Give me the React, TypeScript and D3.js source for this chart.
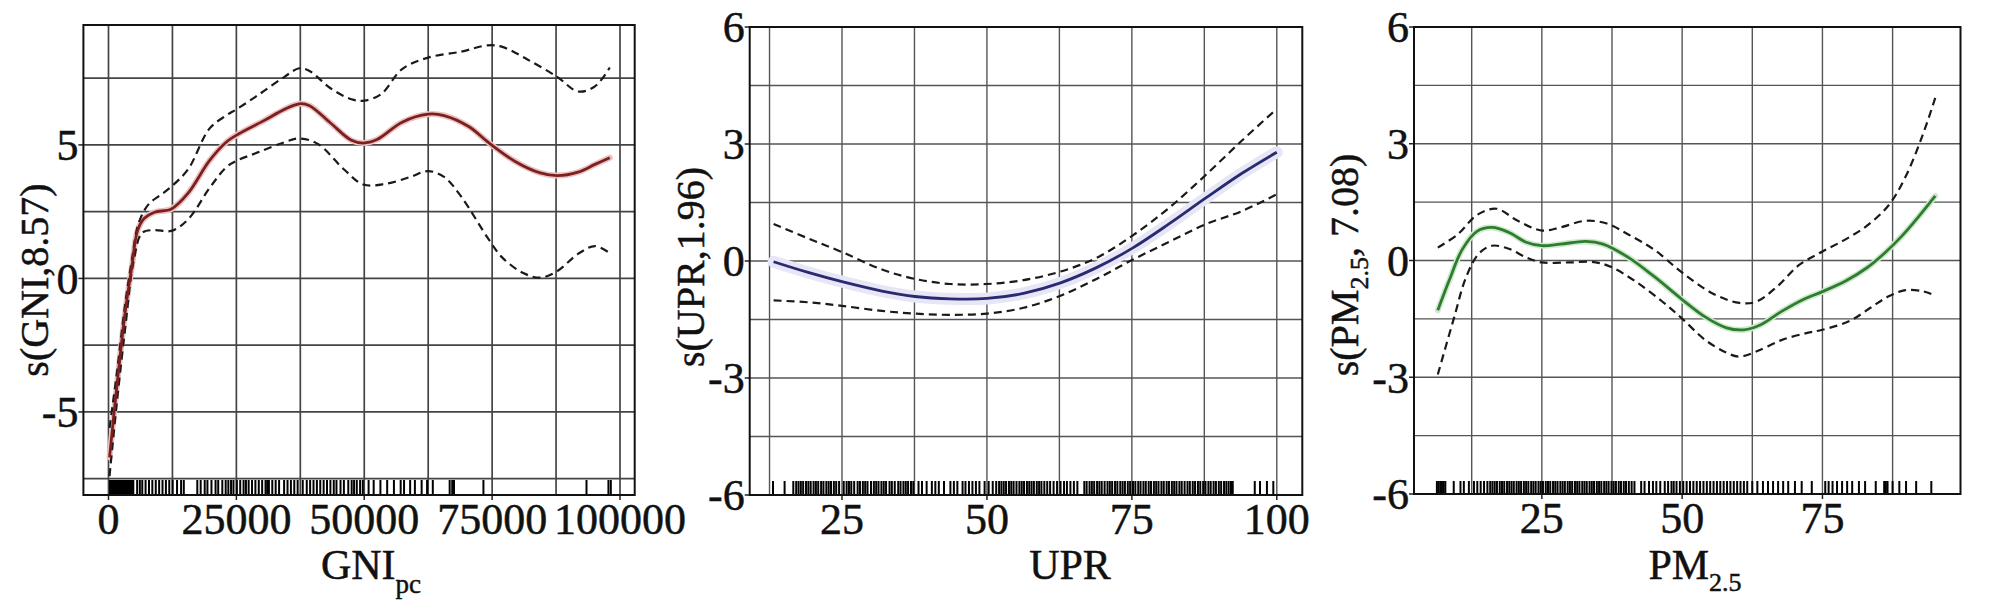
import React from "react";
import * as d3 from "d3";

type Pt = [number, number];

const FONT = '"Liberation Serif", "Times New Roman", Times, serif';

// ---- GNI per capita panel ----
const gniFit: Pt[] = [
  [200, -6.7], [1600, -4.1], [3300, -1.2], [4500, 0.35], [5700, 1.8], [7000, 2.25],
  [9000, 2.48], [12300, 2.6], [15600, 3.2], [19700, 4.4], [23000, 5.1], [25500, 5.42],
  [30300, 5.9], [34400, 6.33], [37300, 6.54], [39300, 6.47], [43400, 5.82], [47500, 5.17],
  [49800, 5.07], [52500, 5.2], [57400, 5.85], [62500, 6.15], [65600, 6.1], [70500, 5.68],
  [74200, 5.1], [79500, 4.38], [84400, 3.95], [87700, 3.85], [91800, 3.98], [95100, 4.27],
  [98000, 4.52],
];
const gniUpper: Pt[] = [
  [200, -5.6], [1600, -3.6], [3300, -0.9], [4500, 0.6], [5700, 1.95], [7000, 2.55],
  [8200, 2.85], [10000, 3.1], [12300, 3.44], [15600, 4.1], [19700, 5.6], [23000, 6.1],
  [25000, 6.33], [29500, 6.9], [34400, 7.55], [37300, 7.87], [39300, 7.77], [43400, 7.12],
  [47500, 6.71], [50000, 6.66], [53300, 6.9], [57400, 7.84], [62500, 8.27], [68900, 8.49],
  [74200, 8.73], [77000, 8.67], [81900, 8.2], [87700, 7.55], [91800, 7.0], [95100, 7.19],
  [98000, 7.9],
];
const gniLower: Pt[] = [
  [200, -7.4], [1600, -4.7], [3300, -1.8], [4900, 0.63], [6600, 1.71], [9000, 1.81],
  [12300, 1.78], [15600, 2.22], [19700, 3.37], [23000, 4.16], [25000, 4.4], [29500, 4.74],
  [34400, 5.1], [37300, 5.24], [41000, 5.03], [46000, 4.09], [49800, 3.52], [54100, 3.54],
  [59000, 3.8], [62500, 4.02], [65600, 3.8], [68900, 3.08], [74200, 1.5], [77000, 0.78],
  [81100, 0.2], [84400, 0.03], [87700, 0.27], [91800, 0.92], [95100, 1.21], [98000, 0.95],
];
const gniRug = [
  300, 450, 600, 750, 900, 1050, 1150, 1300, 1450, 1600, 1750, 1900, 2050, 2200, 2350, 2500,
  2650, 2800, 2950, 3100, 3300, 3450, 3600, 3800, 3950, 4150, 4300, 4500, 4650, 4850,
  5600, 6130, 6600, 7250, 7920, 8570, 9240, 9900, 10560, 11220, 11880, 12540, 13400, 14190, 14720,
  17360, 18020, 18810, 19340, 20130, 20930, 21450, 22250, 22910, 23430, 23960, 24430,
  25090, 25750, 26410, 26870, 27400, 28060, 28720, 29380, 30040, 30700, 31030, 31360, 32020,
  32680, 33350, 34330, 35000, 35660, 36320, 36980, 37970, 38760, 39420, 40080, 40740, 41400,
  42060, 42720, 43380, 44040, 44570, 45360, 46020, 46880, 47540, 48010, 48540, 49190, 49720,
  50850, 51840, 53160, 54480, 55800, 57120, 57780, 58970, 59900, 61220, 62280, 63400,
  66700, 67200, 67550, 73300, 93450, 97740, 98200,
];
const gniXTicks = [0, 25000, 50000, 75000, 100000];
const gniXGrid = [0, 12500, 25000, 37500, 50000, 62500, 75000, 87500, 100000];
const gniYTicks = [-5, 0, 5];
const gniYGrid = [-7.5, -5, -2.5, 0, 2.5, 5, 7.5];

// ---- UPR panel ----
const uprFit: Pt[] = [
  [13.2, -0.02], [19.3, -0.3], [25, -0.53], [31.9, -0.77], [37.6, -0.91], [43.7, -0.97],
  [50, -0.96], [56.3, -0.83], [62.7, -0.56], [68.9, -0.17], [75.1, 0.33], [81.4, 0.95],
  [87.7, 1.61], [94, 2.25], [100, 2.79],
];
const uprUpper: Pt[] = [
  [13.2, 0.95], [19.3, 0.57], [25, 0.23], [31.9, -0.22], [37.6, -0.46], [43.7, -0.59],
  [50, -0.59], [56.3, -0.49], [62.7, -0.27], [68.9, 0.08], [75.1, 0.65], [81.4, 1.36],
  [87.7, 2.2], [94, 3.09], [100, 3.9],
];
const uprLower: Pt[] = [
  [13.2, -1.01], [19.3, -1.06], [25, -1.15], [31.9, -1.28], [37.6, -1.35], [43.7, -1.38],
  [50, -1.35], [56.3, -1.2], [62.7, -0.89], [68.9, -0.46], [75.1, 0.03], [81.4, 0.49],
  [87.7, 0.94], [94, 1.28], [100, 1.71],
];
const uprRug = [
  13.1, 15.1, 16.6, 17.1, 17.5, 17.9, 18.3, 18.8, 19.2, 19.6, 20.1, 20.5, 20.9, 21.4, 21.8,
  22.3, 22.7, 23.1, 23.6, 24.0, 24.5, 25.3, 25.8, 26.2, 26.6, 27.1, 27.7, 28.1, 28.6, 29.0,
  29.4, 30.0, 30.5, 30.9, 31.3, 31.8, 32.2, 32.6, 33.2, 33.6, 34.1, 34.7, 35.1, 35.6, 36.0,
  36.4, 36.9, 37.3, 38.2, 38.8, 39.6, 40.5, 41.1, 41.7, 42.6, 43.7, 44.3, 44.9, 45.8, 46.3,
  46.9, 47.5, 48.1, 48.7, 49.6, 50.3, 51.0, 51.6, 52.1, 52.5, 52.9, 53.3, 53.8, 54.2, 54.6,
  55.1, 55.6, 56.0, 56.4, 56.9, 57.3, 57.7, 58.1, 58.6, 59.0, 59.4, 59.9, 60.4, 60.9, 61.5,
  62.1, 62.7, 63.3, 63.8, 64.4, 65.0, 65.6, 66.8, 67.2, 67.7, 68.1, 68.5, 69.0, 69.4, 69.8,
  70.3, 70.8, 71.2, 71.6, 72.1, 72.5, 73.0, 73.4, 73.8, 74.3, 74.7, 75.2, 75.6, 76.1, 76.5,
  77.0, 77.4, 77.9, 78.3, 78.8, 79.2, 79.6, 80.1, 80.5, 81.0, 81.4, 81.9, 82.3, 82.7, 83.2,
  83.6, 84.1, 84.6, 85.0, 85.5, 85.9, 86.4, 86.8, 87.3, 87.7, 88.2, 88.6, 89.1, 89.5, 90.0,
  90.4, 90.9, 91.3, 91.7, 92.1, 92.4, 96.2, 97.1, 98.3, 99.4,
];
const uprXTicks = [25, 50, 75, 100];
const uprXGrid = [12.5, 25, 37.5, 50, 62.5, 75, 87.5, 100];
const uprYTicks = [-6, -3, 0, 3, 6];
const uprYGrid = [-4.5, -3, -1.5, 0, 1.5, 3, 4.5];

// ---- PM2.5 panel ----
const pmFit: Pt[] = [
  [6.46, -1.28], [8.5, -0.51], [10.8, 0.28], [13.45, 0.75], [16.1, 0.85], [19.15, 0.72],
  [22.2, 0.47], [25, 0.38], [28.3, 0.42], [32.8, 0.49], [35.9, 0.42], [40.4, 0.08],
  [45, -0.41], [49.9, -0.99], [54.1, -1.45], [57.9, -1.73], [61, -1.78], [64, -1.65],
  [67.8, -1.3], [71.6, -1.0], [75, -0.8], [79.2, -0.52], [83, -0.18], [86, 0.18],
  [89.1, 0.62], [92.1, 1.12], [95.1, 1.66],
];
const pmUpper: Pt[] = [
  [6.46, 0.33], [10.0, 0.67], [13.45, 1.17], [16.9, 1.33], [20.7, 1.02], [25, 0.77],
  [28.3, 0.85], [32.8, 1.02], [36.6, 0.95], [40.4, 0.67], [45, 0.28], [49.9, -0.3],
  [55.6, -0.86], [60.2, -1.09], [63.2, -1.06], [67, -0.66], [70.8, -0.12], [75, 0.23],
  [79.2, 0.55], [83, 0.9], [86.8, 1.42], [89.8, 2.15], [92.9, 3.24], [95.1, 4.18],
];
const pmLower: Pt[] = [
  [6.46, -2.93], [9.3, -1.5], [11.55, -0.41], [13.8, 0.18], [16.1, 0.38], [19.15, 0.3],
  [22.2, 0.08], [25, -0.05], [29.8, -0.05], [34.3, -0.04], [37.4, -0.17], [41.9, -0.56],
  [46.5, -1.06], [49.9, -1.48], [54.1, -2.04], [57.9, -2.37], [60.2, -2.47], [63.2, -2.34],
  [67.8, -2.04], [72.3, -1.86], [75, -1.78], [79.9, -1.55], [83.7, -1.2], [86.8, -0.92],
  [89.8, -0.76], [92.9, -0.79], [94.4, -0.86],
];
const pmRug = [
  6.3, 6.6, 6.9, 7.2, 7.5, 7.8, 9.3, 10.5, 11.1, 12.0, 12.9, 13.5, 14.1, 14.7,
  15.3, 15.8, 16.2, 16.6, 17.0, 17.5, 17.9, 18.3, 18.8, 19.2, 19.6, 20.0, 20.5, 20.9, 21.3,
  21.8, 22.2, 22.6, 23.1, 23.5, 23.9, 24.4, 24.8, 25.2, 25.7, 26.1, 26.5, 27.0, 27.4, 27.8,
  28.3, 28.7, 29.1, 29.6, 30.0, 30.4, 30.9, 31.3, 31.7, 32.2, 32.6, 33.0, 33.5, 33.9, 34.3,
  34.8, 35.2, 35.6, 36.1, 36.5, 36.9, 37.4, 37.8, 38.2, 38.7, 39.1, 39.6, 40.0, 40.5, 41.0,
  41.5, 42.7, 43.3, 44.1, 44.8, 45.4, 46.1, 46.9, 47.5, 48.1, 48.5, 49.0, 49.6, 50.2, 50.8,
  51.4, 52.0, 52.6, 53.2, 53.8, 54.4, 55.0, 55.6, 56.2, 56.8, 57.4, 58.0, 58.6, 59.2, 59.8,
  60.4, 61.0, 61.6, 62.5, 63.4, 64.4, 65.3, 66.2, 67.1, 68.0, 68.9, 70.1, 71.3, 73.1,
  75.5, 76.1, 76.8, 77.6, 78.5, 79.4, 80.3, 81.5, 82.6, 84.5, 86.0, 86.3, 86.6, 87.5, 88.7,
  89.9, 91.7, 94.4,
];
const pmXTicks = [25, 50, 75];
const pmXGrid = [12.5, 25, 37.5, 50, 62.5, 75, 87.5];
const pmYTicks = [-6, -3, 0, 3, 6];
const pmYGrid = [-4.5, -3, -1.5, 0, 1.5, 3, 4.5];

interface PanelProps {
  box: { left: number; right: number; top: number; bottom: number };
  xDomain: [number, number];
  yDomain: [number, number];
  xGrid: number[];
  yGrid: number[];
  xTicks: number[];
  yTicks: number[];
  fit: Pt[];
  upper: Pt[];
  lower: Pt[];
  rug: number[];
  rugHeight: number;
  color: string;
  halo: string;
  haloWidth: number;
  gridColor: string;
  gridWidth: number;
  xTitle: React.ReactNode;
  xTitleX: number;
  yTitle: React.ReactNode;
  yTitleX: number;
  yTitleY: number;
}

// text is a bit heavier in the source image
const textStyle = { fontFamily: FONT, fill: "#111", stroke: "#111", strokeWidth: 0.5 };

const Panel = (p: PanelProps) => {
  const { left, right, top, bottom } = p.box;
  const x = d3.scaleLinear().domain(p.xDomain).range([left, right]);
  const y = d3.scaleLinear().domain(p.yDomain).range([bottom, top]);
  const line = d3
    .line<Pt>()
    .x((d) => x(d[0]))
    .y((d) => y(d[1]))
    .curve(d3.curveCatmullRom.alpha(0.5));

  return (
    <g>
      {/* grid */}
      {p.xGrid.map((v) => (
        <line key={"gx" + v} x1={x(v)} x2={x(v)} y1={top} y2={bottom}
          stroke={p.gridColor} strokeWidth={p.gridWidth} />
      ))}
      {p.yGrid.map((v) => (
        <line key={"gy" + v} x1={left} x2={right} y1={y(v)} y2={y(v)}
          stroke={p.gridColor} strokeWidth={p.gridWidth} />
      ))}
      {/* tick marks */}
      {p.xTicks.map((v) => (
        <line key={"tx" + v} x1={x(v)} x2={x(v)} y1={bottom} y2={bottom + 5}
          stroke="#222" strokeWidth={1.5} />
      ))}
      {p.yTicks.map((v) => (
        <line key={"ty" + v} x1={left - 5} x2={left} y1={y(v)} y2={y(v)}
          stroke="#222" strokeWidth={1.5} />
      ))}
      {/* rug */}
      {p.rug.map((v, i) => (
        <line key={"r" + i} x1={x(v)} x2={x(v)} y1={bottom - p.rugHeight} y2={bottom}
          stroke="#000" strokeWidth={2} />
      ))}
      {/* curves */}
      <path d={line(p.fit) || ""} fill="none" stroke={p.halo} strokeWidth={p.haloWidth}
        strokeLinecap="round" />
      <path d={line(p.upper) || ""} fill="none" stroke="#1a1a1a" strokeWidth={2.2}
        strokeDasharray="8,5" />
      <path d={line(p.lower) || ""} fill="none" stroke="#1a1a1a" strokeWidth={2.2}
        strokeDasharray="8,5" />
      <path d={line(p.fit) || ""} fill="none" stroke={p.color} strokeWidth={2.8} />
      {/* frame */}
      <rect x={left} y={top} width={right - left} height={bottom - top}
        fill="none" stroke="#111" strokeWidth={2} />
      {/* tick labels */}
      {p.xTicks.map((v) => (
        <text key={"lx" + v} x={x(v)} y={bottom + 39} textAnchor="middle"
          fontSize={44} {...textStyle}>{v}</text>
      ))}
      {p.yTicks.map((v) => (
        <text key={"ly" + v} x={left - 5} y={y(v)} dy="0.35em" textAnchor="end"
          fontSize={44} {...textStyle}>{v}</text>
      ))}
      {/* titles */}
      <text x={p.xTitleX} y={579} textAnchor="middle" fontSize={42}
        {...textStyle}>{p.xTitle}</text>
      <text transform={`translate(${p.yTitleX},${p.yTitleY}) rotate(-90)`}
        textAnchor="middle" fontSize={40} {...textStyle}>{p.yTitle}</text>
    </g>
  );
};

export default function App() {
  return (
    <svg width={1999} height={600}
      style={{ position: "absolute", left: 0, top: 0, background: "#fff" }}>
      <rect width={1999} height={600} fill="#fff" />
      <Panel
        box={{ left: 83.4, right: 634.7, top: 25, bottom: 495 }}
        xDomain={[-4907, 102873]}
        yDomain={[-8.11, 9.49]}
        xGrid={gniXGrid} yGrid={gniYGrid} xTicks={gniXTicks} yTicks={gniYTicks}
        fit={gniFit} upper={gniUpper} lower={gniLower} rug={gniRug} rugHeight={15}
        color="#7e1f1f" halo="#e9c3c3" haloWidth={6}
        gridColor="#444" gridWidth={1.7}
        xTitle={<>GNI<tspan fontSize={27} dy={14}>pc</tspan></>}
        xTitleX={371}
        yTitle="s(GNI,8.57)" yTitleX={48} yTitleY={280}
      />
      <Panel
        box={{ left: 749.7, right: 1302.3, top: 27, bottom: 495 }}
        xDomain={[9.08, 104.4]}
        yDomain={[-6, 6]}
        xGrid={uprXGrid} yGrid={uprYGrid} xTicks={uprXTicks} yTicks={uprYTicks}
        fit={uprFit} upper={uprUpper} lower={uprLower} rug={uprRug} rugHeight={14}
        color="#2a2a70" halo="#e6e6f7" haloWidth={12}
        gridColor="#555" gridWidth={1.4}
        xTitle="UPR" xTitleX={1070}
        yTitle="s(UPR,1.96)" yTitleX={704} yTitleY={267}
      />
      <Panel
        box={{ left: 1414, right: 1960.5, top: 27, bottom: 494 }}
        xDomain={[2.22, 99.6]}
        yDomain={[-6, 6]}
        xGrid={pmXGrid} yGrid={pmYGrid} xTicks={pmXTicks} yTicks={pmYTicks}
        fit={pmFit} upper={pmUpper} lower={pmLower} rug={pmRug} rugHeight={13}
        color="#2e7d2e" halo="#cfe8cf" haloWidth={6}
        gridColor="#555" gridWidth={1.4}
        xTitle={<>PM<tspan fontSize={26} dy={12}>2.5</tspan></>}
        xTitleX={1695}
        yTitle={<>s(PM<tspan fontSize={26} dy={10}>2.5</tspan><tspan dy={-10}>, 7.08)</tspan></>}
        yTitleX={1358} yTitleY={265}
      />
    </svg>
  );
}
